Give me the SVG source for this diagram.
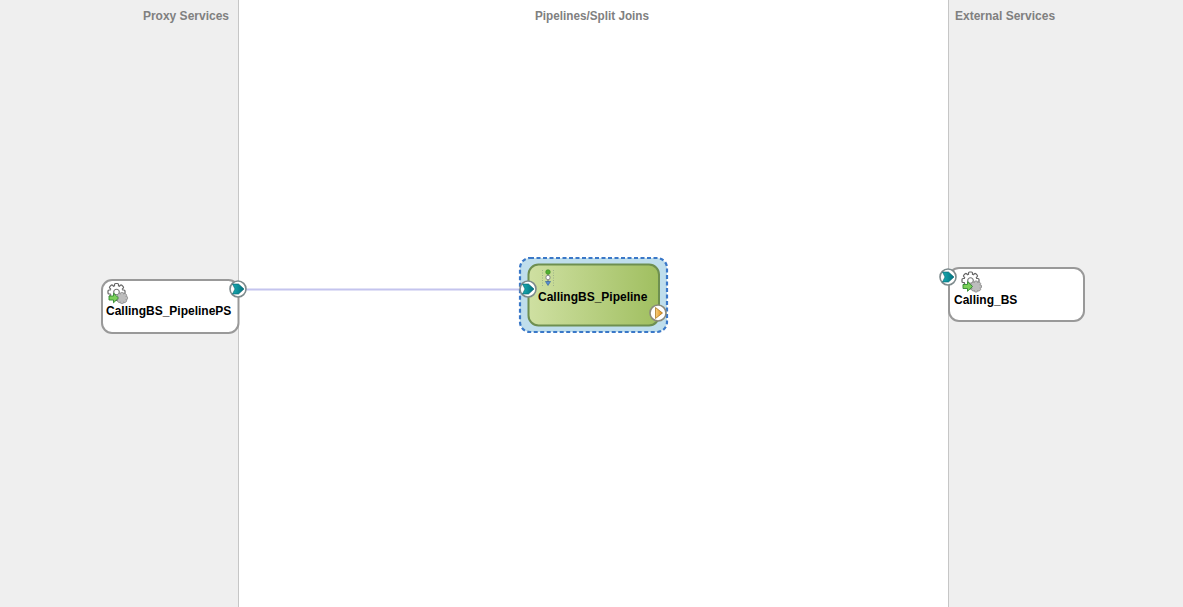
<svg xmlns="http://www.w3.org/2000/svg" xmlns:xlink="http://www.w3.org/1999/xlink" width="1183" height="607" viewBox="0 0 1183 607">
<style>
.band{fill:#efefef}
.sep{stroke:#c6c6c6;stroke-width:1;fill:none}
.head{font:bold 12px "Liberation Sans",Arial,sans-serif;fill:#808080}
.lbl{font:bold 12px "Liberation Sans",Arial,sans-serif;fill:#000}
.card{fill:#fff;stroke:#999;stroke-width:2}
.conn{stroke:#c4c4ee;stroke-width:2;fill:none}
.tooth{fill:#fff;stroke:#666;stroke-width:1.200}
.tooth2{fill:#bdbdbd;stroke:#8c8c8c;stroke-width:.9}
</style>
<defs>
<linearGradient id="pg" x1="0" y1="0" x2="1" y2="0"><stop offset="0" stop-color="#cfe0a2"/><stop offset="1" stop-color="#a0bf60"/></linearGradient>
<linearGradient id="tl" x1="0" y1="0" x2="1" y2="0"><stop offset="0" stop-color="#18acb2"/><stop offset="1" stop-color="#00707e"/></linearGradient>
<linearGradient id="or" x1="0" y1="0" x2="1" y2="0"><stop offset="0" stop-color="#f8d080"/><stop offset="1" stop-color="#e08a10"/></linearGradient>
<g id="port">
<circle r="8" fill="#fff" stroke="#7d8a8c" stroke-width="1.600"/>
<path d="M-5.500-5H0.500L6 0L0.500 5H-5.500L-3 0Z" fill="url(#tl)" stroke="#04606c" stroke-width=".6"/>
</g>
<g id="gear">
<g transform="translate(-1 -1)">
<rect class="tooth" x="-2" y="-8.500" width="4" height="17" rx="1"/>
<rect class="tooth" x="-2" y="-8.500" width="4" height="17" rx="1" transform="rotate(45)"/>
<rect class="tooth" x="-2" y="-8.500" width="4" height="17" rx="1" transform="rotate(90)"/>
<rect class="tooth" x="-2" y="-8.500" width="4" height="17" rx="1" transform="rotate(135)"/>
<circle r="6" fill="#fff"/>
<circle r="2.800" fill="#fff" stroke="#777" stroke-width="1.100"/>
</g>
<g transform="translate(4.500 5)">
<rect class="tooth2" x="-1.500" y="-5.500" width="3" height="11" rx=".8"/>
<rect class="tooth2" x="-1.500" y="-5.500" width="3" height="11" rx=".8" transform="rotate(45)"/>
<rect class="tooth2" x="-1.500" y="-5.500" width="3" height="11" rx=".8" transform="rotate(90)"/>
<rect class="tooth2" x="-1.500" y="-5.500" width="3" height="11" rx=".8" transform="rotate(135)"/>
<circle r="3.900" fill="#bdbdbd"/>
</g>
<path d="M-8.500 3h4.500v-2.800l5 4.800-5 4.800v-2.800h-4.500z" fill="#7cd05a" stroke="#2f8a2f" stroke-width=".9"/>
</g>
</defs>
<rect width="1183" height="607" fill="#fff"/>
<rect class="band" x="0" y="0" width="238" height="607"/>
<rect class="band" x="949" y="0" width="234" height="607"/>
<path class="sep" d="M238.500 0V607M948.500 0V607"/>
<text class="head" x="229" y="20" text-anchor="end">Proxy Services</text>
<text class="head" x="535" y="20" textLength="114" lengthAdjust="spacingAndGlyphs">Pipelines/Split Joins</text>
<text class="head" x="955" y="20">External Services</text>
<g id="connectors"><path class="conn" d="M246 289.500H520"/></g>
<g id="node-proxy">
<rect class="card" x="102" y="280" width="136.500" height="53" rx="10"/>
<use xlink:href="#gear" href="#gear" transform="translate(117.500 293)"/>
<text class="lbl" x="106" y="315">CallingBS_PipelinePS</text>
<use xlink:href="#port" href="#port" transform="translate(238 289)"/>
</g>
<g id="node-pipeline">
<rect x="520" y="258" width="147" height="74" rx="10" fill="#bfdeec" stroke="#3a78c8" stroke-width="2.200" stroke-dasharray="4 2.500"/>
<rect x="528.500" y="264.500" width="130.500" height="61" rx="10" fill="url(#pg)" stroke="#6e8f50" stroke-width="2"/>
<path d="M542.500 270V286M553.500 270V286" stroke="#9fb38a" stroke-width="1" stroke-dasharray="1 1.500"/>
<path d="M548 272V284" stroke="#667" stroke-width="1"/>
<circle cx="548" cy="272" r="2.300" fill="#50b030" stroke="#3a8a20" stroke-width=".6"/>
<rect x="546" y="275.500" width="4" height="4" rx="1.500" fill="#fff" stroke="#667" stroke-width=".7"/>
<path d="M545.500 281.500h5l-2.500 4z" fill="#5a8fd0" stroke="#2a5a9a" stroke-width=".6"/>
<text class="lbl" x="538" y="301">CallingBS_Pipeline</text>
<use xlink:href="#port" href="#port" transform="translate(528 289)"/>
<circle cx="658" cy="313" r="8" fill="#fff" stroke="#8a8a7a" stroke-width="1.600"/>
<path d="M655.500 307.500L662.500 313L655.500 318.500Z" fill="url(#or)" stroke="#a06a10" stroke-width=".7"/>
</g>
<g id="node-bs">
<rect class="card" x="949" y="268" width="135" height="53" rx="10"/>
<use xlink:href="#gear" href="#gear" transform="translate(971.500 281.500)"/>
<text class="lbl" x="954" y="304">Calling_BS</text>
<use xlink:href="#port" href="#port" transform="translate(948 277)"/>
</g>
</svg>
